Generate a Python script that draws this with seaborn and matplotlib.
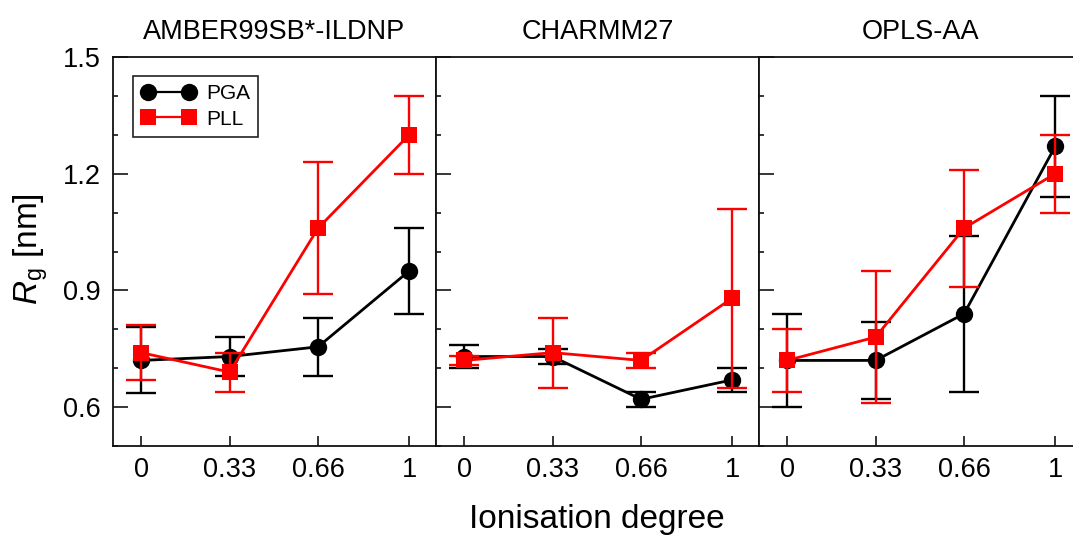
import pandas as pd
import matplotlib
matplotlib.use('Agg')
import matplotlib.pyplot as plt
from matplotlib.lines import Line2D
from matplotlib.ticker import MultipleLocator
import seaborn as sns

# ionisation degree values
alpha = [0, 0.33, 0.66, 1]
ticklabels = ['0', '0.33', '0.66', '1']

# force fields
fields = ['AMBER99SB*-ILDNP', 'CHARMM27', 'OPLS-AA']

# Rg (nm) and errors
amber_pga = [0.72, 0.73, 0.755, 0.95]
amber_pga_err = [0.085, 0.05, 0.075, 0.11]
amber_pll = [0.74, 0.69, 1.06, 1.30]
amber_pll_err = [0.07, 0.05, 0.17, 0.10]

charmm_pga = [0.73, 0.73, 0.62, 0.67]
charmm_pga_err = [0.03, 0.02, 0.02, 0.03]
charmm_pll = [0.72, 0.74, 0.72, 0.88]
charmm_pll_err = [0.012, 0.09, 0.02, 0.23]

opls_pga = [0.72, 0.72, 0.84, 1.27]
opls_pga_err = [0.12, 0.10, 0.20, 0.13]
opls_pll = [0.72, 0.78, 1.06, 1.20]
opls_pll_err = [0.08, 0.17, 0.15, 0.10]

pga = [amber_pga, charmm_pga, opls_pga]
pga_err = [amber_pga_err, charmm_pga_err, opls_pga_err]
pll = [amber_pll, charmm_pll, opls_pll]
pll_err = [amber_pll_err, charmm_pll_err, opls_pll_err]

sns.set_style('white')
plt.rcParams['font.family'] = ['Liberation Sans', 'DejaVu Sans']
plt.rcParams['mathtext.fontset'] = 'custom'
plt.rcParams['mathtext.rm'] = 'Liberation Sans'
plt.rcParams['mathtext.it'] = 'Liberation Sans:italic'
plt.rcParams['text.color'] = 'black'
plt.rcParams['xtick.color'] = 'black'
plt.rcParams['ytick.color'] = 'black'

colors = {'PGA': 'black', 'PLL': 'red'}
markers = {'PGA': 'o', 'PLL': 's'}
msizes = {'PGA': 12.5, 'PLL': 11.0}

fig = plt.figure(figsize=(10.73, 5.37), dpi=100)
W, H = 1073, 537
lefts = [113, 436, 759]
pw = 323
top, bottom = 57, 446

for i, field in enumerate(fields):
    ax = fig.add_axes([lefts[i] / W, 1 - bottom / H, pw / W, (bottom - top) / H])
    df = pd.DataFrame({
        'alpha': alpha * 2,
        'rg': pga[i] + pll[i],
        'err': pga_err[i] + pll_err[i],
        'peptide': ['PGA'] * 4 + ['PLL'] * 4,
    })
    for pep in ['PGA', 'PLL']:
        sub = df[df['peptide'] == pep]
        ax.errorbar(sub['alpha'], sub['rg'], yerr=sub['err'], fmt='none',
                    ecolor=colors[pep], elinewidth=1.7, capsize=11, capthick=1.7)
        sns.lineplot(data=sub, x='alpha', y='rg', color=colors[pep],
                     marker=markers[pep], markersize=msizes[pep],
                     markeredgewidth=0, linewidth=2.0, ax=ax, legend=False)

    ax.set_xlim(-0.105, 1.1)
    ax.set_ylim(0.5, 1.5)
    ax.set_xticks(alpha)
    ax.set_xticklabels(ticklabels)
    ax.yaxis.set_major_locator(MultipleLocator(0.3))
    ax.yaxis.set_minor_locator(MultipleLocator(0.1))
    ax.yaxis.set_major_formatter(matplotlib.ticker.FormatStrFormatter('%.1f'))
    ax.tick_params(axis='x', direction='in', length=7, width=1.1, labelsize=19.5,
                   pad=8, bottom=True)
    ax.tick_params(axis='y', which='major', direction='in', length=11, width=1.1,
                   labelsize=19.5, pad=9, left=True)
    ax.tick_params(axis='y', which='minor', direction='in', length=3.6, width=1.1,
                   left=True)
    if i > 0:
        ax.tick_params(axis='y', labelleft=False)
    for s in ax.spines.values():
        s.set_linewidth(1.3)
        s.set_color('#111111')
    ax.set_xlabel('')
    ax.set_ylabel('')
    ax.set_title(field, fontsize=19.5, pad=13)

    if i == 0:
        handles = [Line2D([], [], color=colors[p], marker=markers[p],
                          markersize=msizes[p], markeredgewidth=0, linewidth=1.6)
                   for p in ['PGA', 'PLL']]
        leg = ax.legend(handles, ['PGA', 'PLL'], loc='upper left',
                        bbox_to_anchor=(0.062, 0.951), borderaxespad=0,
                        numpoints=2, handlelength=2.6, fontsize=15,
                        fancybox=False, framealpha=1, edgecolor='#222222',
                        borderpad=0.4, labelspacing=0.3, handletextpad=0.5)
        leg.get_frame().set_linewidth(1.2)

fig.text(597 / W, 1 - 528 / H, 'Ionisation degree', fontsize=24,
         ha='center', va='baseline')
fig.text(31 / W, 1 - 249 / H, r'$R_\mathrm{g}$ [nm]', fontsize=24,
         rotation=90, ha='center', va='center')

fig.savefig('out.png', dpi=100)
